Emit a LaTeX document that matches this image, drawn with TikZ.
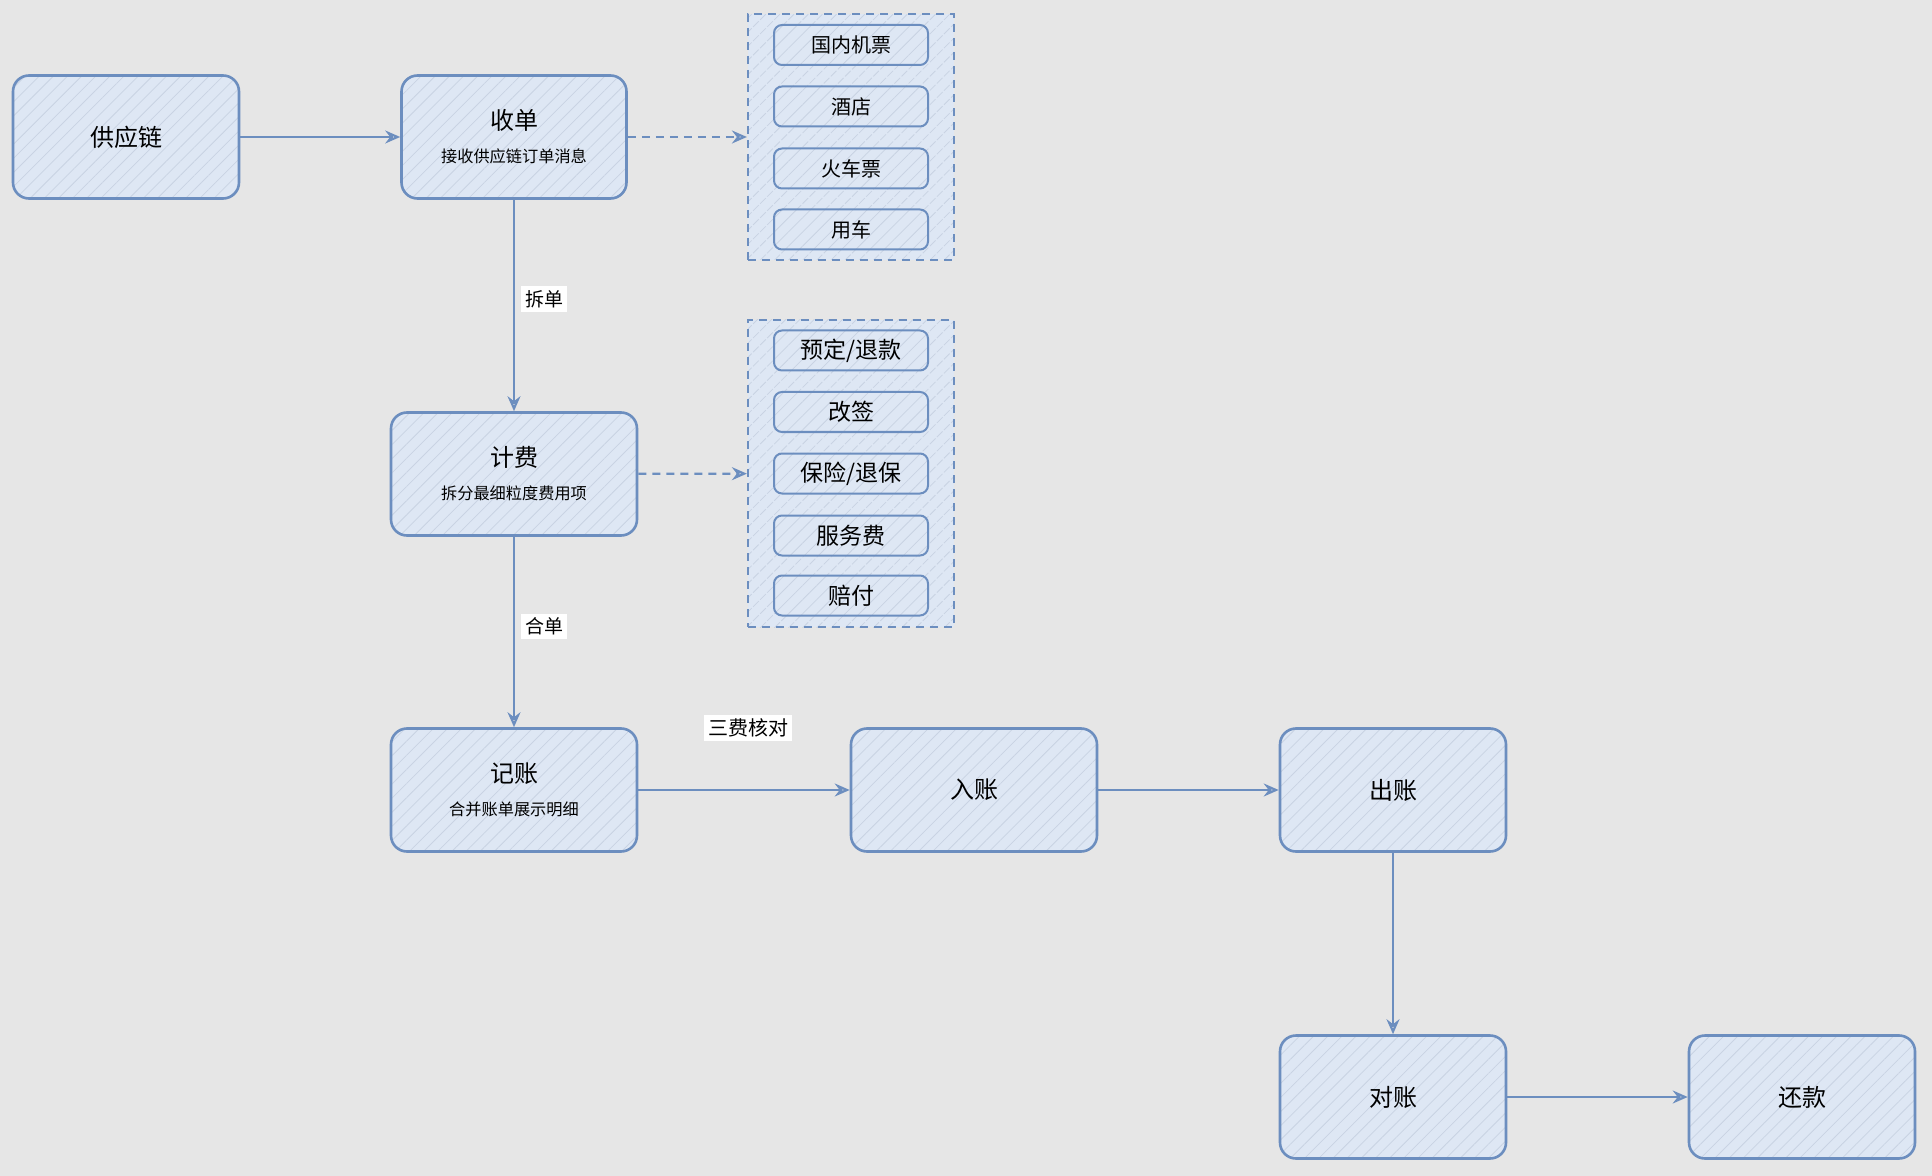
\documentclass[tikz,border=0pt]{standalone}
\usepackage{fontspec}
\setmainfont{Noto Sans CJK SC}
\usetikzlibrary{arrows.meta,patterns.meta}
\definecolor{bgc}{HTML}{E6E6E6}
\definecolor{strokec}{HTML}{6C8EBF}
\definecolor{fillc}{HTML}{DEE7F4}
\definecolor{hatchc}{HTML}{C9D3E3}
\tikzset{
  hatched/.style={preaction={fill=fillc}, pattern={Lines[angle=45,distance=5pt,line width=0.4pt]}, pattern color=hatchc},
  bigbox/.style={draw=strokec, line width=1.3pt, rounded corners=8pt, hatched, minimum width=113pt, minimum height=61.5pt, align=center, inner sep=0pt, font=\fontsize{12pt}{14pt}\selectfont},
  widebox/.style={bigbox, minimum width=123pt},
  groupbox/.style={draw=strokec, line width=1.1pt, dashed, dash pattern=on 4pt off 3pt, hatched, minimum width=103pt, inner sep=0pt},
  itema/.style={draw=strokec, line width=1pt, rounded corners=4pt, hatched, minimum width=77pt, minimum height=20pt, inner sep=0pt, font=\fontsize{10pt}{12pt}\selectfont},
  itemb/.style={itema, font=\fontsize{11.5pt}{13pt}\selectfont},
  conn/.style={draw=strokec, line width=1.1pt, -{Stealth[open, length=7.5pt, width=6.5pt, inset=2.5pt]}},
  dconn/.style={conn, dash pattern=on 4pt off 3pt},
  lbl/.style={fill=white, inner sep=2pt, font=\fontsize{9.5pt}{11pt}\selectfont, text=black}
}
\newcommand{\subtxt}[1]{{\fontsize{8.1pt}{10pt}\selectfont #1}}
\begin{document}
\begin{tikzpicture}[x=0.5pt, y=-0.5pt]
\useasboundingbox[fill=bgc] (0,0) rectangle (1932,1176);

\node[bigbox] (supply) at (126,137) {供应链};
\node[bigbox, minimum width=112.5pt] (shoudan) at (514,137) {收单\\[2.5pt]\subtxt{接收供应链订单消息}};
\node[widebox] (jifei) at (514,474) {计费\\[2.5pt]\subtxt{拆分最细粒度费用项}};
\node[widebox] (jizhang) at (514,790) {记账\\[2.5pt]\subtxt{合并账单展示明细}};
\node[widebox] (ruzhang) at (974,790) {入账};
\node[bigbox] (chuzhang) at (1393,790) {出账};
\node[bigbox] (duizhang) at (1393,1097) {对账};
\node[bigbox] (huankuan) at (1802,1097) {还款};

\node[groupbox, minimum height=123pt] (g1) at (851,137) {};
\node[itema] (i1) at (851,45) {国内机票};
\node[itema] (i2) at (851,106.5) {酒店};
\node[itema] (i3) at (851,168.5) {火车票};
\node[itema] (i4) at (851,229.5) {用车};

\node[groupbox, minimum height=153.5pt] (g2) at (851,473.5) {};
\node[itemb] (j1) at (851,350.5) {预定/退款};
\node[itemb] (j2) at (851,412) {改签};
\node[itemb] (j3) at (851,473.5) {保险/退保};
\node[itemb] (j4) at (851,535.5) {服务费};
\node[itemb] (j5) at (851,595.5) {赔付};

\draw[conn] (supply) -- (shoudan);
\draw[dconn] (shoudan) -- (g1);
\draw[conn] (shoudan) -- node[lbl, pos=0.47, anchor=west, xshift=3pt] {拆单} (jifei);
\draw[dconn] (jifei) -- (g2);
\draw[conn] (jifei) -- node[lbl, pos=0.47, anchor=west, xshift=3pt] {合单} (jizhang);
\draw[conn] (jizhang) -- node[lbl, pos=0.52, yshift=31pt, font=\fontsize{10pt}{12pt}\selectfont] {三费核对} (ruzhang);
\draw[conn] (ruzhang) -- (chuzhang);
\draw[conn] (chuzhang) -- (duizhang);
\draw[conn] (duizhang) -- (huankuan);
\end{tikzpicture}
\end{document}
